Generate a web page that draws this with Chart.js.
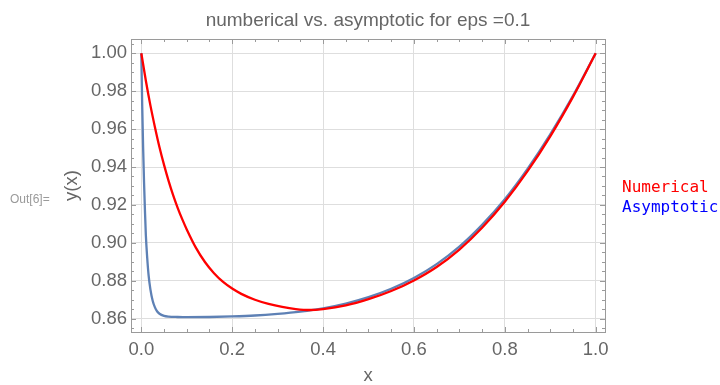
<!DOCTYPE html>
<html>
<head>
<meta charset="utf-8">
<script src="https://cdn.jsdelivr.net/npm/chart.js@4.4.1/dist/chart.umd.min.js"></script>
<style>
  html, body {
    margin: 0;
    padding: 0;
    background: #ffffff;
  }

  #wrap {
    position: relative;
    width: 720px;
    height: 385px;
    overflow: hidden;
  }

  #outLabel {
    position: absolute;
    left: 10px;
    top: 192px;
    font: 12px "Liberation Sans", Arial, sans-serif;
    line-height: 15px;
    color: #9a9a9a;
  }

  #legend {
    position: absolute;
    left: 622px;
    top: 177px;
    font: 16px "DejaVu Sans Mono", monospace;
    line-height: 20px;
    white-space: nowrap;
  }
</style>
</head>
<body>
<div id="wrap">
  <canvas id="chart" width="720" height="385"></canvas>
  <div id="outLabel">Out[6]=</div>
  <div id="legend"></div>
</div>

<script>
const chartTitle = "numberical vs. asymptotic for eps =0.1";
const xTitle = "x";
const yTitle = "y(x)";

const seriesNames = ["Numerical", "Asymptotic"];
const legendColors = ["#ff0000", "#0000ff"];

const xTicks = [0.0, 0.2, 0.4, 0.6, 0.8, 1.0];
const yTicks = [0.86, 0.88, 0.90, 0.92, 0.94, 0.96, 0.98, 1.00];

// numerical solution (red)
const numericalX = [0, 0.01, 0.02, 0.03, 0.04, 0.05, 0.06, 0.07, 0.08, 0.09, 0.10, 0.12, 0.14, 0.16, 0.18, 0.20, 0.22, 0.25, 0.28, 0.31, 0.34, 0.37, 0.40, 0.45, 0.50, 0.55, 0.60, 0.65, 0.70, 0.75, 0.80, 0.85, 0.90, 0.95, 1.0];
const numericalY = [1.0, 0.9855, 0.9725, 0.961, 0.9504, 0.9411, 0.9327, 0.9252, 0.9185, 0.9125, 0.9071, 0.8975, 0.8899, 0.884, 0.8794, 0.8759, 0.8731, 0.8700, 0.8678, 0.8662, 0.8651, 0.8646, 0.8651, 0.8670, 0.8703, 0.8746, 0.8802, 0.8873, 0.8965, 0.9080, 0.9217, 0.9378, 0.9562, 0.9770, 1.0];

// asymptotic approximation (blue)
const asymptoticX = [0, 0.002, 0.004, 0.006, 0.008, 0.010, 0.013, 0.016, 0.020, 0.025, 0.030, 0.035, 0.040, 0.050, 0.060, 0.08, 0.10, 0.15, 0.20, 0.25, 0.30, 0.35, 0.40, 0.45, 0.50, 0.55, 0.60, 0.65, 0.70, 0.75, 0.80, 0.85, 0.90, 0.95, 1.0];
const asymptoticY = [1.0, 0.972, 0.950, 0.932, 0.917, 0.904, 0.892, 0.883, 0.8755, 0.8695, 0.866, 0.8638, 0.8626, 0.8615, 0.8611, 0.8609, 0.8608, 0.8609, 0.8612, 0.8617, 0.8626, 0.8638, 0.8655, 0.8680, 0.8714, 0.8758, 0.8815, 0.8888, 0.8980, 0.9095, 0.9230, 0.9390, 0.9572, 0.9775, 1.0];

const X_MIN = -0.0227;
const X_MAX = 1.0205;
const Y_MIN = 0.853;
const Y_MAX = 1.0075;

const SANS = '"Liberation Sans", Arial, sans-serif';
const TEXT = "#666666";
const FRAME = "#9a9a9a";
const GRID = "#dedede";


function toPoints(xs, ys) {
  return xs.map((x, i) => ({ x: x, y: ys[i] }));
}


// inward tick marks on all four sides of the frame
const frameTicks = {
  id: "frameTicks",
  beforeDatasetsDraw(chart) {
    const { ctx, chartArea: a, scales } = chart;

    ctx.save();
    ctx.strokeStyle = FRAME;
    ctx.lineWidth = 1;
    ctx.beginPath();

    for (let i = 0; i <= 20; i++) {
      const px = Math.round(scales.x.getPixelForValue(i * 0.05)) + 0.5;
      const len = i % 4 === 0 ? 5 : 3;

      ctx.moveTo(px, a.bottom);
      ctx.lineTo(px, a.bottom - len);
      ctx.moveTo(px, a.top);
      ctx.lineTo(px, a.top + len);
    }

    for (let i = 0; i <= 30; i++) {
      const v = 0.855 + i * 0.005;
      const py = Math.round(scales.y.getPixelForValue(v)) + 0.5;
      const len = Math.round(v * 1000) % 20 === 0 ? 5 : 3;

      ctx.moveTo(a.left, py);
      ctx.lineTo(a.left + len, py);
      ctx.moveTo(a.right, py);
      ctx.lineTo(a.right - len, py);
    }

    ctx.stroke();
    ctx.restore();
  }
};


function buildLegend() {
  const el = document.getElementById("legend");

  seriesNames.forEach((name, i) => {
    const row = document.createElement("div");
    row.textContent = name;
    row.style.color = legendColors[i];
    el.appendChild(row);
  });
}


const ctx = document.getElementById("chart").getContext("2d");

new Chart(ctx, {
  type: "line",
  data: {
    datasets: [
      {
        label: seriesNames[0],
        data: toPoints(numericalX, numericalY),
        borderColor: "#ff0000",
        borderWidth: 2.3,
        pointRadius: 0,
        cubicInterpolationMode: "monotone",
        fill: false
      },
      {
        label: seriesNames[1],
        data: toPoints(asymptoticX, asymptoticY),
        borderColor: "#5e81b5",
        borderWidth: 2.3,
        pointRadius: 0,
        cubicInterpolationMode: "monotone",
        fill: false
      }
    ]
  },
  options: {
    responsive: false,
    animation: false,
    layout: { padding: 0 },
    plugins: {
      legend: { display: false },
      tooltip: { enabled: false },
      title: {
        display: true,
        text: chartTitle,
        color: TEXT,
        fullSize: false,
        font: { family: SANS, size: 19, weight: "normal", lineHeight: 1.2 },
        padding: { top: 9.6, bottom: 6.6 }
      }
    },
    scales: {
      x: {
        type: "linear",
        position: "bottom",
        min: X_MIN,
        max: X_MAX,
        afterBuildTicks: s => { s.ticks = xTicks.map(v => ({ value: v })); },
        afterFit: s => { s.height = 53; },
        grid: { color: GRID, lineWidth: 1, drawTicks: false },
        border: { color: FRAME, width: 1 },
        ticks: {
          color: TEXT,
          font: { family: SANS, size: 18.5 },
          padding: 7,
          maxRotation: 0,
          autoSkip: false,
          callback: v => Number(v).toFixed(1)
        },
        title: {
          display: true,
          text: xTitle,
          color: TEXT,
          font: { family: SANS, size: 18.5, lineHeight: 1 },
          padding: { top: 0, bottom: 0 }
        }
      },
      xTop: {
        type: "linear",
        axis: "x",
        position: "top",
        min: X_MIN,
        max: X_MAX,
        afterFit: s => { s.height = 0; },
        grid: { display: false },
        ticks: { display: false },
        border: { color: FRAME, width: 1 }
      },
      y: {
        type: "linear",
        position: "left",
        min: Y_MIN,
        max: Y_MAX,
        afterBuildTicks: s => { s.ticks = yTicks.map(v => ({ value: v })); },
        afterFit: s => { s.width = 131; },
        grid: { color: GRID, lineWidth: 1, drawTicks: false },
        border: { color: FRAME, width: 1 },
        ticks: {
          color: TEXT,
          font: { family: SANS, size: 18.5 },
          padding: 4,
          autoSkip: false,
          callback: v => Number(v).toFixed(2)
        },
        title: {
          display: true,
          text: yTitle,
          color: TEXT,
          font: { family: SANS, size: 18.5, lineHeight: 1.2 },
          padding: { top: 61, bottom: 0 }
        }
      },
      yRight: {
        type: "linear",
        axis: "y",
        position: "right",
        min: Y_MIN,
        max: Y_MAX,
        afterFit: s => { s.width = 115; },
        grid: { display: false },
        ticks: { display: false },
        border: { color: FRAME, width: 1 }
      }
    }
  },
  plugins: [frameTicks]
});

buildLegend();
</script>
</body>
</html>
